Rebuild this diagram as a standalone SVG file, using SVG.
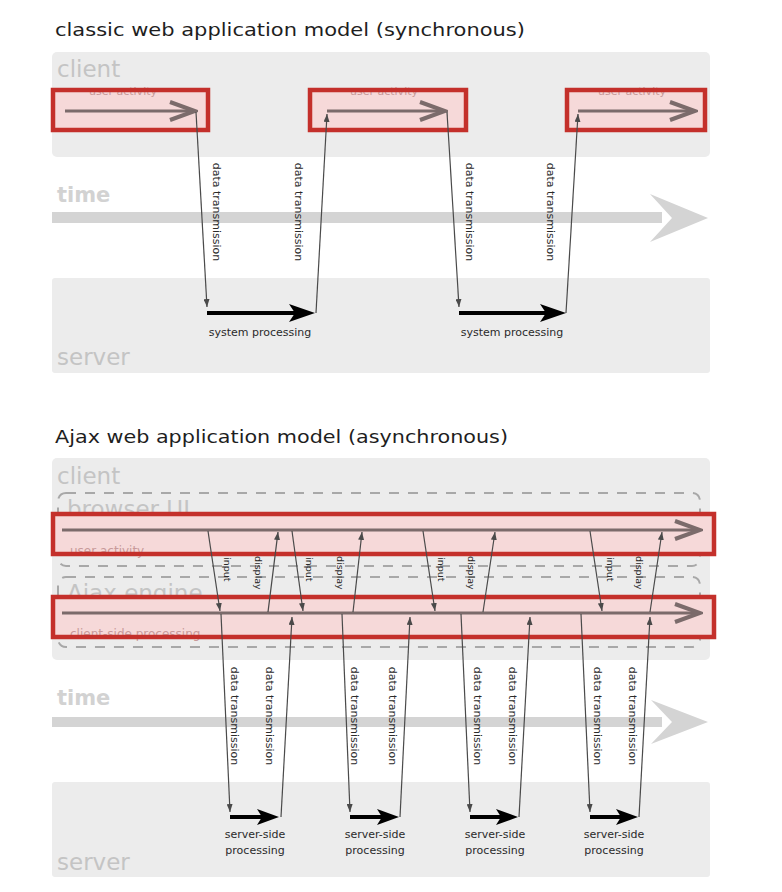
<svg xmlns="http://www.w3.org/2000/svg" width="782" height="892" viewBox="0 0 782 892">
<style>
.title{font-family:"DejaVu Sans",Verdana,sans-serif;font-size:18px;fill:#1e1e1e}
.lane{fill:#ececec}
.big{font-family:"DejaVu Sans",Verdana,sans-serif;font-size:23px;fill:#c4c4c4}
.time{font-family:"DejaVu Sans",Verdana,sans-serif;font-size:21px;font-weight:bold;fill:#d2d2d2}
.band{fill:#d4d4d4}
.redfill{fill:#f6d9d9}
.redline{fill:none;stroke:#c4302b;stroke-width:4.5}
.faint{font-family:"DejaVu Sans",Verdana,sans-serif;font-size:11px;fill:#c89a9a}
.dash{fill:none;stroke:#a8a8a8;stroke-width:2;stroke-dasharray:10 9}
.act{fill:none;stroke:#7b6b6b;stroke-width:3}
.thin{fill:none;stroke:#4a4a4a;stroke-width:1.2}
.proc{fill:none;stroke:#000;stroke-width:4}
.lbl{font-family:"DejaVu Sans",Verdana,sans-serif;font-size:11px;fill:#2a2a2a}
.lbs{font-family:"DejaVu Sans",Verdana,sans-serif;font-size:9.5px;fill:#2a2a2a}
.mid{text-anchor:middle}
</style>
<defs>
<marker id="chev" markerUnits="userSpaceOnUse" viewBox="0 0 30 22" refX="27" refY="11" markerWidth="30" markerHeight="22" orient="auto">
<path d="M2,2 L27,11 L2,20" fill="none" stroke="#7b6b6b" stroke-width="4"/>
</marker>
<marker id="sm" markerUnits="userSpaceOnUse" viewBox="0 0 8 6" refX="8" refY="3" markerWidth="8" markerHeight="6" orient="auto">
<path d="M0,0 L8,3 L0,6 Z" fill="#4a4a4a"/>
</marker>
<marker id="blk" markerUnits="userSpaceOnUse" viewBox="0 0 26 18" refX="16" refY="9" markerWidth="26" markerHeight="18" orient="auto">
<path d="M0,0 L26,9 L0,18 L6,9 Z" fill="#000"/>
</marker>
<marker id="blks" markerUnits="userSpaceOnUse" viewBox="0 0 22 16" refX="13" refY="8" markerWidth="22" markerHeight="16" orient="auto">
<path d="M0,0 L22,8 L0,16 L5,8 Z" fill="#000"/>
</marker>
</defs>
<rect width="782" height="892" fill="#fff"/>

<!-- ===== classic model ===== -->
<g id="classic-title"><text class="title" x="55" y="36" textLength="470" lengthAdjust="spacingAndGlyphs">classic web application model (synchronous)</text></g>
<g id="classic-client">
<rect class="lane" x="52" y="52" width="658" height="105" rx="5"/>
<text class="big" x="57" y="77">client</text>
</g>
<g id="classic-time">
<text class="time" x="57" y="202">time</text>
<rect class="band" x="52" y="212" width="610" height="11"/>
<path class="band" d="M650,194 L708,218 L650,242 L672,218 Z"/>
</g>
<g id="classic-server">
<rect class="lane" x="52" y="278" width="658" height="95" rx="3"/>
<text class="big" x="57" y="365">server</text>
</g>
<g id="ua1">
<rect class="redfill" x="53" y="90" width="155" height="40"/>
<text class="faint mid" x="123" y="95">user activity</text>
<rect class="redline" x="53" y="90" width="155" height="40"/>
</g>
<g id="ua2">
<rect class="redfill" x="310" y="90" width="156" height="40"/>
<text class="faint mid" x="384" y="95">user activity</text>
<rect class="redline" x="310" y="90" width="156" height="40"/>
</g>
<g id="ua3">
<rect class="redfill" x="567" y="90" width="138" height="40"/>
<text class="faint mid" x="632" y="95">user activity</text>
<rect class="redline" x="567" y="90" width="138" height="40"/>
</g>
<g id="sp1"><text class="lbl mid" x="260" y="336">system processing</text></g>
<g id="sp2"><text class="lbl mid" x="512" y="336">system processing</text></g>
<g id="classic-connectors">
<path class="act" d="M65,111 L195,111" marker-end="url(#chev)"/>
<path class="act" d="M327,111 L445,111" marker-end="url(#chev)"/>
<path class="act" d="M578,111 L695,111" marker-end="url(#chev)"/>
<path class="thin" d="M196,112 L207,307" marker-end="url(#sm)"/>
<path class="thin" d="M316,313 L327,114" marker-end="url(#sm)"/>
<path class="thin" d="M447,112 L459,307" marker-end="url(#sm)"/>
<path class="thin" d="M566,313 L578,114" marker-end="url(#sm)"/>
<path class="proc" d="M207,313 L305,313" marker-end="url(#blk)"/>
<path class="proc" d="M459,313 L556,313" marker-end="url(#blk)"/>
<text class="lbl mid" transform="translate(213,212) rotate(90)">data transmission</text>
<text class="lbl mid" transform="translate(295,212) rotate(90)">data transmission</text>
<text class="lbl mid" transform="translate(466,212) rotate(90)">data transmission</text>
<text class="lbl mid" transform="translate(547,212) rotate(90)">data transmission</text>
</g>

<!-- ===== Ajax model ===== -->
<g id="ajax-title"><text class="title" x="55" y="443" textLength="453" lengthAdjust="spacingAndGlyphs">Ajax web application model (asynchronous)</text></g>
<g id="ajax-client">
<rect class="lane" x="52" y="458" width="658" height="202" rx="5"/>
<text class="big" x="57" y="484">client</text>
</g>
<g id="browser-ui">
<rect class="dash" x="58" y="493" width="642" height="73" rx="8"/>
<text class="big" x="67" y="517">browser UI</text>
</g>
<g id="ajax-engine">
<rect class="dash" x="58" y="577" width="642" height="70" rx="8"/>
<text class="big" x="67" y="601">Ajax engine</text>
</g>
<g id="ajax-time">
<text class="time" x="57" y="705">time</text>
<rect class="band" x="52" y="717" width="610" height="10"/>
<path class="band" d="M651,700 L708,722 L651,744 L672,722 Z"/>
</g>
<g id="ajax-server">
<rect class="lane" x="52" y="782" width="658" height="95" rx="3"/>
<text class="big" x="57" y="870">server</text>
</g>
<g id="user-activity">
<rect class="redfill" x="53" y="514" width="661" height="40"/>
<text class="faint" x="70" y="555" style="font-size:12px">user activity</text>
<rect class="redline" x="53" y="514" width="661" height="40"/>
</g>
<g id="client-side-processing">
<rect class="redfill" x="53" y="597" width="661" height="40"/>
<text class="faint" x="70" y="638" style="font-size:12px">client-side processing</text>
<rect class="redline" x="53" y="597" width="661" height="40"/>
</g>
<g id="ssp1"><text class="lbl mid" x="255" y="838">server-side</text><text class="lbl mid" x="255" y="854">processing</text></g>
<g id="ssp2"><text class="lbl mid" x="375" y="838">server-side</text><text class="lbl mid" x="375" y="854">processing</text></g>
<g id="ssp3"><text class="lbl mid" x="495" y="838">server-side</text><text class="lbl mid" x="495" y="854">processing</text></g>
<g id="ssp4"><text class="lbl mid" x="614" y="838">server-side</text><text class="lbl mid" x="614" y="854">processing</text></g>
<g id="ajax-connectors">
<path class="act" d="M62,530 L700,530" marker-end="url(#chev)"/>
<path class="act" d="M62,613 L700,613" marker-end="url(#chev)"/>
<path class="thin" d="M208,531 L220,611" marker-end="url(#sm)"/>
<path class="thin" d="M268,612 L278,532" marker-end="url(#sm)"/>
<path class="thin" d="M292,531 L303,611" marker-end="url(#sm)"/>
<path class="thin" d="M353,612 L362,532" marker-end="url(#sm)"/>
<path class="thin" d="M423,531 L435,611" marker-end="url(#sm)"/>
<path class="thin" d="M483,612 L495,532" marker-end="url(#sm)"/>
<path class="thin" d="M590,531 L602,611" marker-end="url(#sm)"/>
<path class="thin" d="M650,612 L662,532" marker-end="url(#sm)"/>
<text class="lbs" transform="translate(224,557) rotate(90)">input</text>
<text class="lbs" transform="translate(255,556) rotate(90)">display</text>
<text class="lbs" transform="translate(306,557) rotate(90)">input</text>
<text class="lbs" transform="translate(337,556) rotate(90)">display</text>
<text class="lbs" transform="translate(438,557) rotate(90)">input</text>
<text class="lbs" transform="translate(468,556) rotate(90)">display</text>
<text class="lbs" transform="translate(607,557) rotate(90)">input</text>
<text class="lbs" transform="translate(636,556) rotate(90)">display</text>
<path class="thin" d="M221,614 L230,812" marker-end="url(#sm)"/>
<path class="thin" d="M281,817 L292,617" marker-end="url(#sm)"/>
<path class="thin" d="M342,614 L350,812" marker-end="url(#sm)"/>
<path class="thin" d="M400,817 L410,617" marker-end="url(#sm)"/>
<path class="thin" d="M461,614 L470,812" marker-end="url(#sm)"/>
<path class="thin" d="M519,817 L530,617" marker-end="url(#sm)"/>
<path class="thin" d="M581,614 L590,812" marker-end="url(#sm)"/>
<path class="thin" d="M639,817 L650,617" marker-end="url(#sm)"/>
<path class="proc" d="M230,817 L270,817" marker-end="url(#blks)"/>
<path class="proc" d="M350,817 L390,817" marker-end="url(#blks)"/>
<path class="proc" d="M470,817 L509,817" marker-end="url(#blks)"/>
<path class="proc" d="M590,817 L629,817" marker-end="url(#blks)"/>
<text class="lbl mid" transform="translate(231,716) rotate(90)">data transmission</text>
<text class="lbl mid" transform="translate(266,716) rotate(90)">data transmission</text>
<text class="lbl mid" transform="translate(351,716) rotate(90)">data transmission</text>
<text class="lbl mid" transform="translate(389,716) rotate(90)">data transmission</text>
<text class="lbl mid" transform="translate(474,716) rotate(90)">data transmission</text>
<text class="lbl mid" transform="translate(509,716) rotate(90)">data transmission</text>
<text class="lbl mid" transform="translate(594,716) rotate(90)">data transmission</text>
<text class="lbl mid" transform="translate(629,716) rotate(90)">data transmission</text>
</g>
</svg>
